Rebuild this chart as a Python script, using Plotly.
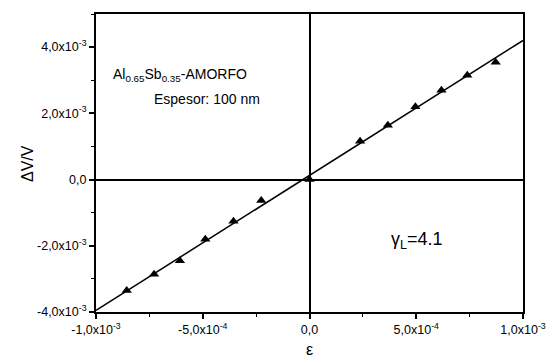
import plotly.graph_objects as go

# Measured data (strain vs. relative voltage change)
strain = [-0.856e-3, -0.728e-3, -0.607e-3, -0.488e-3, -0.356e-3, -0.226e-3, 0.0,
          0.237e-3, 0.367e-3, 0.496e-3, 0.618e-3, 0.739e-3, 0.872e-3]
dv_v = [-3.35e-3, -2.86e-3, -2.45e-3, -1.80e-3, -1.26e-3, -0.63e-3, 0.0,
        1.16e-3, 1.64e-3, 2.20e-3, 2.70e-3, 3.15e-3, 3.54e-3]

# Linear fit line endpoints
fit_x = [-1.0e-3, 1.0e-3]
fit_y = [-3.95e-3, 4.2e-3]

x_tickvals = [-1.0e-3, -5.0e-4, 0.0, 5.0e-4, 1.0e-3]
x_ticktext = ["-1,0x10<sup>-3</sup>", "-5,0x10<sup>-4</sup>", "0,0",
              "5,0x10<sup>-4</sup>", "1,0x10<sup>-3</sup>"]
y_tickvals = [-4.0e-3, -2.0e-3, 0.0, 2.0e-3, 4.0e-3]
y_ticktext = ["-4,0x10<sup>-3</sup>", "-2,0x10<sup>-3</sup>", "0,0",
              "2,0x10<sup>-3</sup>", "4,0x10<sup>-3</sup>"]

L, R, T, B = 96, 523, 14, 312

def px_to_paper(px, py):
    return (px - L) / (R - L), 1 - (py - T) / (B - T)

fig = go.Figure()
fig.add_trace(go.Scatter(x=fit_x, y=fit_y, mode="lines",
                         line=dict(color="black", width=1.5), showlegend=False))
fig.add_trace(go.Scatter(x=strain, y=dv_v, mode="markers",
                         marker=dict(symbol="triangle-up", size=9, color="black"),
                         showlegend=False))

font = "Liberation Sans, Arial, sans-serif"

ann = []
ax, ay = px_to_paper(111, 75)
ann.append(dict(x=ax, y=ay, xref="paper", yref="paper", xanchor="left", yanchor="middle",
                text="Al<sub>0.65</sub>Sb<sub>0.35</sub>-AMORFO", showarrow=False,
                font=dict(size=14, color="black", family=font)))
ax, ay = px_to_paper(152, 99)
ann.append(dict(x=ax, y=ay, xref="paper", yref="paper", xanchor="left", yanchor="middle",
                text="Espesor: 100 nm", showarrow=False,
                font=dict(size=14, color="black", family=font)))
ax, ay = px_to_paper(389, 240)
ann.append(dict(x=ax, y=ay, xref="paper", yref="paper", xanchor="left", yanchor="middle",
                text="γ<sub>L</sub>=4.1", showarrow=False,
                font=dict(size=18, color="black", family=font)))
ax, ay = px_to_paper(27, 164)
ann.append(dict(x=ax, y=ay, xref="paper", yref="paper", xanchor="center", yanchor="middle",
                text="ΔV/V", textangle=-90, showarrow=False,
                font=dict(size=16, color="black", family=font)))
ax, ay = px_to_paper(309, 349)
ann.append(dict(x=ax, y=ay, xref="paper", yref="paper", xanchor="center", yanchor="middle",
                text="ε", showarrow=False,
                font=dict(size=16, color="black", family=font)))

fig.update_layout(
    width=547, height=358,
    margin=dict(l=L, r=547 - R, t=T, b=358 - B),
    paper_bgcolor="white", plot_bgcolor="white",
    font=dict(family=font, size=12, color="black"),
    xaxis=dict(range=[-1.0e-3, 1.0e-3], tickvals=x_tickvals, ticktext=x_ticktext,
               automargin=False,
               showgrid=False, zeroline=True, zerolinecolor="black", zerolinewidth=1.5,
               showline=True, linecolor="black", linewidth=2, mirror=True,
               ticks="outside", ticklen=5, tickwidth=1.5, tickcolor="black",
               tickfont=dict(size=12.5),
               minor=dict(dtick=2.5e-4, tick0=0, ticks="outside", ticklen=3,
                          tickcolor="black", tickwidth=1)),
    yaxis=dict(range=[-4.0e-3, 5.0e-3], tickvals=y_tickvals, ticktext=y_ticktext,
               automargin=False,
               showgrid=False, zeroline=True, zerolinecolor="black", zerolinewidth=1.5,
               showline=True, linecolor="black", linewidth=2, mirror=True,
               ticks="outside", ticklen=5, tickwidth=1.5, tickcolor="black",
               tickfont=dict(size=12.5),
               minor=dict(dtick=1.0e-3, tick0=0, ticks="outside", ticklen=3,
                          tickcolor="black", tickwidth=1)),
    annotations=ann,
)

fig.write_html("out.html", config={"displayModeBar": False},
               post_script="document.body.style.margin='0';")
